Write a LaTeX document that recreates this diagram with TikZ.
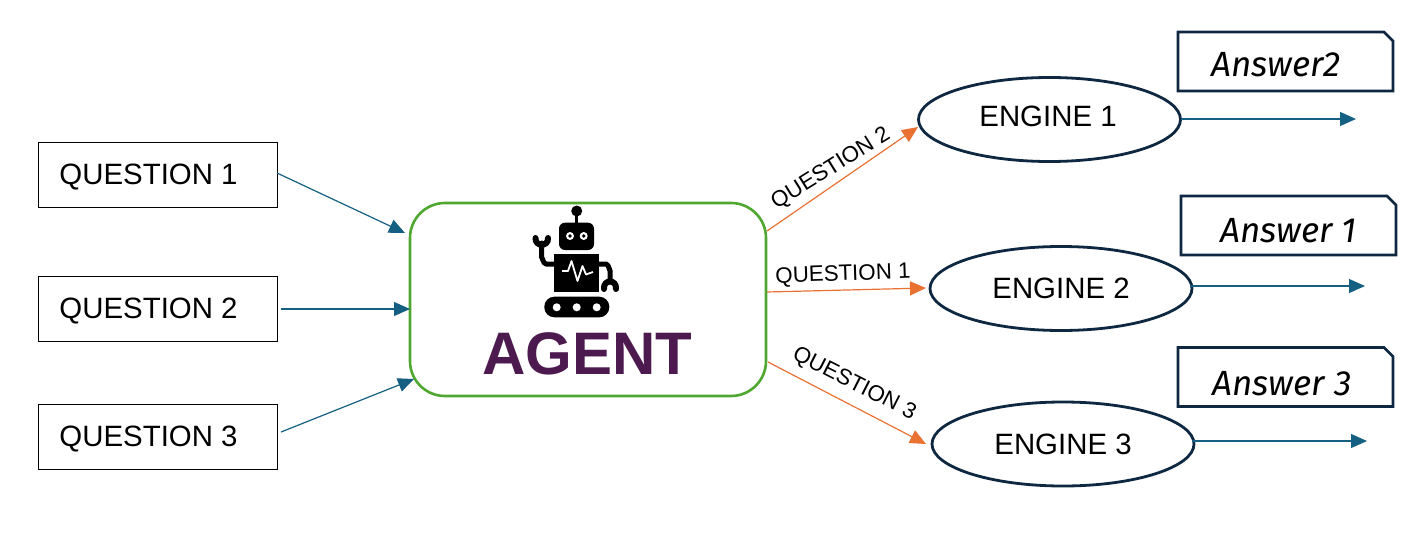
\documentclass[tikz,border=0pt]{standalone}
\usepackage{fontspec}
\setmainfont{Liberation Sans}
\newfontfamily\ansfont{Fira Sans}
\usetikzlibrary{shapes.geometric,shapes.misc,arrows.meta}
\definecolor{navy}{HTML}{0E2841}
\definecolor{bluearrow}{HTML}{156082}
\definecolor{orangearrow}{HTML}{E97132}
\definecolor{agentgreen}{HTML}{4EA72E}
\definecolor{agentpurple}{HTML}{4C1A4F}
\tikzset{
  qbox/.style={draw=black,line width=1pt,minimum width=239pt,minimum height=65pt,inner sep=0pt,font=\fontsize{29.4}{30}\selectfont},
  engine/.style={ellipse,draw=navy,line width=2.8pt,minimum width=262pt,minimum height=84pt,inner sep=0pt,font=\fontsize{29.4}{30}\selectfont},
  ansbox/.style={chamfered rectangle,chamfered rectangle corners=north east,chamfered rectangle xsep=9pt,chamfered rectangle ysep=9pt,draw=navy,line width=2.8pt,minimum width=215pt,minimum height=59pt,inner sep=0pt,font=\ansfont\itshape\fontsize{35}{35}\selectfont},
  bluearr/.style={draw=bluearrow,line width=1.2pt,-{Triangle[length=16pt,width=14pt]}},
  orangearr/.style={draw=orangearrow,line width=1.2pt,-{Triangle[length=16pt,width=14pt]}},
  qlabel/.style={inner sep=0pt,font=\fontsize{22.3}{23}\selectfont},
  robotline/.style={draw=black,line width=5pt,line cap=round,line join=round},
}
\begin{document}
\begin{tikzpicture}[x=1pt,y=-1pt]
\useasboundingbox (0,0) rectangle (1414,533);
% nodes
\node[qbox] (q1) at (157.5,174.5) {\hspace*{-18pt}\raisebox{-10pt}[0pt][0pt]{QUESTION 1}};
\node[qbox] (q2) at (157.5,308.5) {\hspace*{-18pt}\raisebox{-10pt}[0pt][0pt]{QUESTION 2}};
\node[qbox] (q3) at (157.5,436.5) {\hspace*{-18pt}\raisebox{-10pt}[0pt][0pt]{QUESTION 3}};
\node[draw=agentgreen,line width=2.6pt,rounded corners=35pt,minimum width=356pt,minimum height=193pt,inner sep=0pt] (agent) at (588,299.5) {};
\node[inner sep=0pt,text=agentpurple,font=\bfseries\fontsize{60}{60}\selectfont] (agenttxt) at (587,354) {AGENT};
\node[engine] (e1) at (1049.5,119.5) {\hspace*{-3pt}\raisebox{-7pt}[0pt][0pt]{ENGINE 1}};
\node[engine] (e2) at (1061,288.5) {\raisebox{-10pt}[0pt][0pt]{ENGINE 2}};
\node[engine] (e3) at (1063,444) {\raisebox{-10pt}[0pt][0pt]{ENGINE 3}};
\node[ansbox] (a2) at (1285.5,61.5) {\hspace*{-19pt}\raisebox{-14.5pt}[0pt][0pt]{Answer2}};
\node[ansbox] (a1) at (1288.5,225.5) {\raisebox{-16.5pt}[0pt][0pt]{Answer 1}};
\node[ansbox] (a3) at (1285.5,377) {\hspace*{-7pt}\raisebox{-18pt}[0pt][0pt]{Answer 3}};
% free ends
\coordinate (q1s) at (277,173);
\coordinate (q1e) at (405,233);
\coordinate (q2s) at (281,309);
\coordinate (q2e) at (410,309);
\coordinate (q3s) at (281,432);
\coordinate (q3e) at (414,379);
\coordinate (o1s) at (767,231);
\coordinate (o1e) at (918,127);
\coordinate (o2s) at (767,292);
\coordinate (o2e) at (926,288);
\coordinate (o3s) at (768,362);
\coordinate (o3e) at (926,444);
\coordinate (r1s) at (1181,119);
\coordinate (r1e) at (1356,119);
\coordinate (r2s) at (1190,286);
\coordinate (r2e) at (1365,286);
\coordinate (r3s) at (1192,441);
\coordinate (r3e) at (1367,441);
\draw[bluearr] (q1s) -- (q1e);
\draw[bluearr] (q2s) -- (q2e);
\draw[bluearr] (q3s) -- (q3e);
\draw[orangearr] (o1s) -- (o1e);
\draw[orangearr] (o2s) -- (o2e);
\draw[orangearr] (o3s) -- (o3e);
\draw[bluearr] (r1s) -- (r1e);
\draw[bluearr] (r2s) -- (r2e);
\draw[bluearr] (r3s) -- (r3e);
% connector labels
\node[qlabel,rotate=32] (l2) at (831,169) {QUESTION 2};
\node[qlabel,rotate=2] (l1) at (843,275) {QUESTION 1};
\node[qlabel,rotate=-27] (l3) at (854,384) {QUESTION 3};
% robot
\fill[black] (576.7,211) circle (5.5);
\draw[black,line width=3pt] (576.7,211) -- (576.7,224);
\fill[black,rounded corners=6pt] (559,222.7) rectangle (594,250);
\foreach \ex in {570,583.7}{
  \fill[white] (\ex,236) circle (4);
  \fill[black] (\ex,236) circle (1.8);
}
\fill[black] (554.3,254.3) rectangle (599,292.3);
\draw[robotline] (555,264) -- (546,264) to[out=180,in=90] (541.7,258) -- (541.7,243);
\draw[black,line width=6pt,line cap=round] (535.5,238) .. controls (535,247) and (548.5,247) .. (548,238);
\draw[robotline] (598,264) -- (606,264) to[out=0,in=-90] (610,270) -- (610,282);
\draw[black,line width=6pt,line cap=round] (604,289) .. controls (603,279) and (617,279) .. (616,289);
\fill[black,rounded corners=10pt] (544.3,296.7) rectangle (609.3,317.3);
\foreach \wx in {556.7,576.7,596.7}{\fill[white] (\wx,307.3) circle (4);}
\draw[white,line width=1.8pt,line join=round] (562,271) -- (568,271) -- (571.5,261) -- (577.5,281) -- (582.5,266) -- (586,274.5) -- (593,272);
\end{tikzpicture}
\end{document}
